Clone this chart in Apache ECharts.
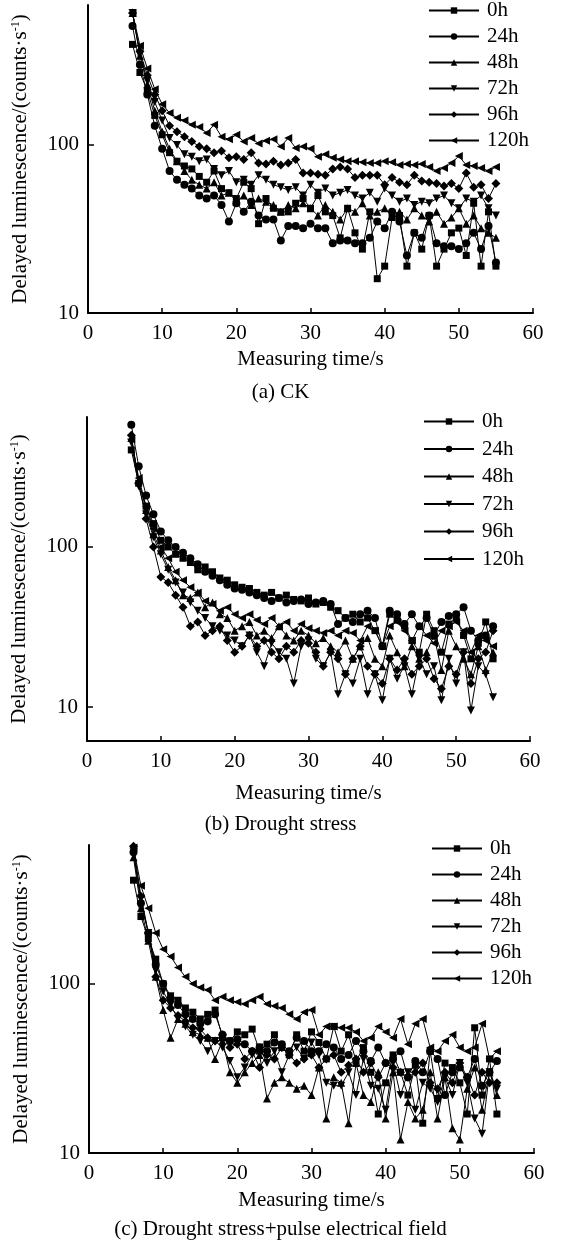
<!DOCTYPE html>
<html>
<head>
<meta charset="utf-8">
<script src="https://cdn.jsdelivr.net/npm/echarts@6/dist/echarts.min.js"></script>
<style>
html,body{margin:0;padding:0;background:#fff;}
#chart{width:561px;height:1243px;}
</style>
</head>
<body>
<div id="chart"></div>
<script>
// Measuring time (s)
const seconds = [6,7,8,9,10,11,12,13,14,15,16,17,18,19,20,21,22,23,24,25,26,27,28,29,30,31,32,33,34,35,36,37,38,39,40,41,42,43,44,45,46,47,48,49,50,51,52,53,54,55];
const seriesNames = ['0h','24h','48h','72h','96h','120h'];
const panelCaptions = ['(a) CK','(b) Drought stress','(c) Drought stress+pulse electrical field'];
const yTickValues = [10, 100];
const xTickLabels = [0,10,20,30,40,50,60];

// (a) CK
const ck_0h   = [397,270,210,150,115,90,80,75,72,65,60,70,55,52,48,60,55,34,48,42,40,40,45,48,42,50,40,38,28,42,30,24,40,16,19,37,38,19,30,24,38,19,24,30,32,22,45,19,40,19];
const ck_24h  = [510,300,200,130,95,70,62,58,55,50,48,50,44,35,45,40,46,38,36,36,27,33,33,32,34,32,32,26,27,27,26,26,28,35,32,40,35,22,30,28,38,26,25,25,24,26,30,24,33,20];
const ck_48h  = [611,340,230,160,120,95,80,70,62,58,55,60,50,52,46,50,44,48,46,44,40,44,42,45,42,38,44,40,36,42,40,45,38,40,42,38,40,36,42,38,35,40,34,37,42,34,38,32,30,28];
const ck_72h  = [611,350,240,180,140,110,100,88,85,80,82,72,66,70,60,62,58,66,62,58,56,54,56,50,58,52,55,50,52,54,50,48,52,46,55,50,46,48,44,46,45,48,50,45,42,48,46,50,42,38];
const ck_96h  = [611,360,260,200,160,130,120,112,105,98,95,90,92,84,85,82,90,78,77,80,76,78,82,68,68,67,66,72,74,72,64,66,66,66,58,64,60,58,66,61,60,59,57,59,55,68,56,58,48,59];
const ck_120h = [611,390,285,215,175,155,145,140,132,128,118,132,112,108,115,105,110,102,106,108,98,110,96,98,95,85,88,84,82,80,80,79,78,78,80,79,76,77,76,77,74,70,73,78,86,76,75,73,70,74];

// (b) Drought stress
const ds_0h   = [404,250,180,140,110,100,90,85,80,72,75,70,64,62,58,56,55,52,50,52,48,50,47,46,48,44,45,42,40,36,38,34,36,30,24,38,35,32,26,22,38,30,22,33,36,28,20,25,34,20];
const ds_24h  = [580,320,210,160,125,110,100,92,85,78,70,66,62,58,55,54,52,50,48,46,48,45,46,47,44,45,46,44,33,36,34,38,40,36,24,40,38,33,38,32,36,28,34,37,38,42,30,26,28,32];
const ds_48h  = [480,260,170,120,95,75,62,50,48,52,42,45,38,36,30,32,34,28,30,27,32,28,26,30,28,25,27,24,22,26,20,24,27,20,18,28,22,18,24,20,22,28,17,30,24,20,16,24,17,22];
const ds_72h  = [450,240,160,115,90,72,60,52,45,40,36,32,30,28,26,24,28,22,18,25,22,20,14,24,26,20,18,22,12,16,14,20,12,16,11,20,15,18,12,20,16,18,11,20,14,22,9.5,18,16,11.5];
const ds_96h  = [500,250,150,100,65,60,50,42,32,34,28,30,32,26,22,24,28,24,26,22,20,24,22,26,25,22,18,22,20,16,20,24,18,16,14,20,17,20,16,18,20,15,13,18,16,22,14,20,22,30];
const ds_120h = [470,270,180,130,100,85,70,62,56,52,46,44,40,42,38,36,38,35,33,36,32,34,30,33,31,30,29,30,28,30,29,26,32,30,24,32,34,30,26,32,28,25,30,32,34,30,22,28,26,24];

// (c) Drought stress + pulse electrical field
const pe_0h   = [410,250,185,140,100,85,80,72,68,62,66,70,48,46,52,50,54,40,44,50,42,38,50,40,52,45,36,56,40,50,35,42,30,17,26,38,30,22,33,15,40,21,34,32,26,17,55,22,36,17];
const pe_24h  = [600,300,200,130,100,82,75,66,62,58,60,66,50,46,47,44,40,42,40,45,44,40,48,46,40,40,44,42,36,38,46,40,35,42,34,36,40,28,35,30,40,36,22,30,32,28,36,25,30,35];
const pe_48h  = [560,280,180,110,70,48,62,58,52,50,48,36,46,30,26,30,34,38,21,26,28,26,24,25,22,32,16,28,26,15,34,22,20,30,16,30,12,20,16,18,30,16,28,14,12,24,32,18,30,22];
const pe_72h  = [600,320,200,120,90,75,62,56,50,46,40,46,42,35,28,32,38,42,34,40,30,38,42,36,45,38,26,25,25,30,22,36,25,24,18,34,22,30,18,26,24,20,28,22,34,26,16,13,30,24];
const pe_96h  = [650,330,200,110,80,72,65,60,55,54,48,46,50,42,44,36,40,32,38,36,42,38,34,36,38,32,36,38,30,33,36,30,34,28,34,32,30,28,30,34,26,24,30,26,34,28,22,30,26,26];
const pe_120h = [640,380,280,200,160,145,125,110,100,95,92,80,84,80,78,76,80,84,76,74,72,66,62,68,70,50,56,56,55,55,52,46,48,56,52,48,62,44,58,62,42,40,46,50,42,40,42,58,36,40];

const panels = [
  {data:[ck_0h,ck_24h,ck_48h,ck_72h,ck_96h,ck_120h]},
  {data:[ds_0h,ds_24h,ds_48h,ds_72h,ds_96h,ds_120h]},
  {data:[pe_0h,pe_24h,pe_48h,pe_72h,pe_96h,pe_120h]}
];

// layout (pixels)
const layout = [
  {left:88, top:5,   width:445, height:308, yMin:10,   yMax:681, xNameGap:36, legendLeft:428, legendTop:0,   captionY:391, legendGap:5},
  {left:87, top:417, width:443, height:324, yMin:6.13, yMax:649, xNameGap:42, legendLeft:423, legendTop:411, captionY:823, legendGap:6.5},
  {left:89, top:845, width:445, height:308, yMin:10,   yMax:662, xNameGap:37, legendLeft:431, legendTop:838, captionY:1228, legendGap:5}
];

const symbols = [
  {symbol:'rect', rotate:0, size:7},
  {symbol:'circle', rotate:0, size:8},
  {symbol:'triangle', rotate:0, size:8},
  {symbol:'triangle', rotate:180, size:8},
  {symbol:'diamond', rotate:0, size:9},
  {symbol:'triangle', rotate:90, size:8}
];

const FONT = 'Liberation Serif';
const FS = 21;
const grids = [], xAxes = [], yAxes = [], series = [], legends = [], graphics = [];

layout.forEach((L, p) => {
  grids.push({left:L.left, top:L.top, width:L.width, height:L.height, containLabel:false});
  xAxes.push({
    type:'value', gridIndex:p, min:0, max:60, interval:10,
    name:'Measuring time/s', nameLocation:'middle', nameGap:L.xNameGap,
    nameTextStyle:{fontFamily:FONT, fontSize:FS, color:'#000'},
    axisLine:{show:true, lineStyle:{color:'#000', width:2}},
    axisTick:{show:true, inside:true, length:5, lineStyle:{color:'#000', width:1.5}},
    axisLabel:{fontFamily:FONT, fontSize:FS, color:'#000', margin:10},
    splitLine:{show:false}
  });
  yAxes.push({
    type:'log', logBase:10, gridIndex:p, min:L.yMin, max:L.yMax,
    name:'Delayed luminescence/(counts·s{sup|-1})', nameLocation:'middle', nameGap:57,
    nameTextStyle:{fontFamily:FONT, fontSize:FS, color:'#000',
      rich:{sup:{fontFamily:FONT, fontSize:12, color:'#000', verticalAlign:'top', lineHeight:12}}},
    axisLine:{show:true, lineStyle:{color:'#000', width:2}},
    axisTick:{show:true, inside:true, length:6, lineStyle:{color:'#000', width:1.5}, customValues:yTickValues},
    axisLabel:{fontFamily:FONT, fontSize:FS, color:'#000', margin:9, customValues:yTickValues},
    splitLine:{show:false}, minorTick:{show:false}
  });
  panels[p].data.forEach((vals, s) => {
    series.push({
      type:'line', name:seriesNames[s], xAxisIndex:p, yAxisIndex:p,
      data: seconds.map((t, i) => [t, vals[i]]),
      symbol:symbols[s].symbol, symbolRotate:symbols[s].rotate, symbolSize:symbols[s].size,
      showAllSymbol:true,
      lineStyle:{color:'#000', width:1},
      itemStyle:{color:'#000'},
      animation:false, z:2 + s
    });
  });
  legends.push({
    orient:'vertical', left:L.legendLeft, top:L.legendTop, padding:0,
    data:seriesNames, itemWidth:50, itemHeight:8, itemGap:L.legendGap,
    textStyle:{fontFamily:FONT, fontSize:FS, color:'#000', padding:[0,0,0,3]},
    selectedMode:false, symbolRotate:'inherit'
  });
  graphics.push({
    type:'text', left:'center', top:L.captionY - 9,
    style:{text:panelCaptions[p], font:FS + 'px "Liberation Serif"', fill:'#000', textAlign:'center'}
  });
});

const chart = echarts.init(document.getElementById('chart'), null, {renderer:'canvas'});
chart.setOption({
  backgroundColor:'#fff',
  animation:false,
  grid:grids, xAxis:xAxes, yAxis:yAxes, series:series, legend:legends, graphic:graphics
});
</script>
</body>
</html>
